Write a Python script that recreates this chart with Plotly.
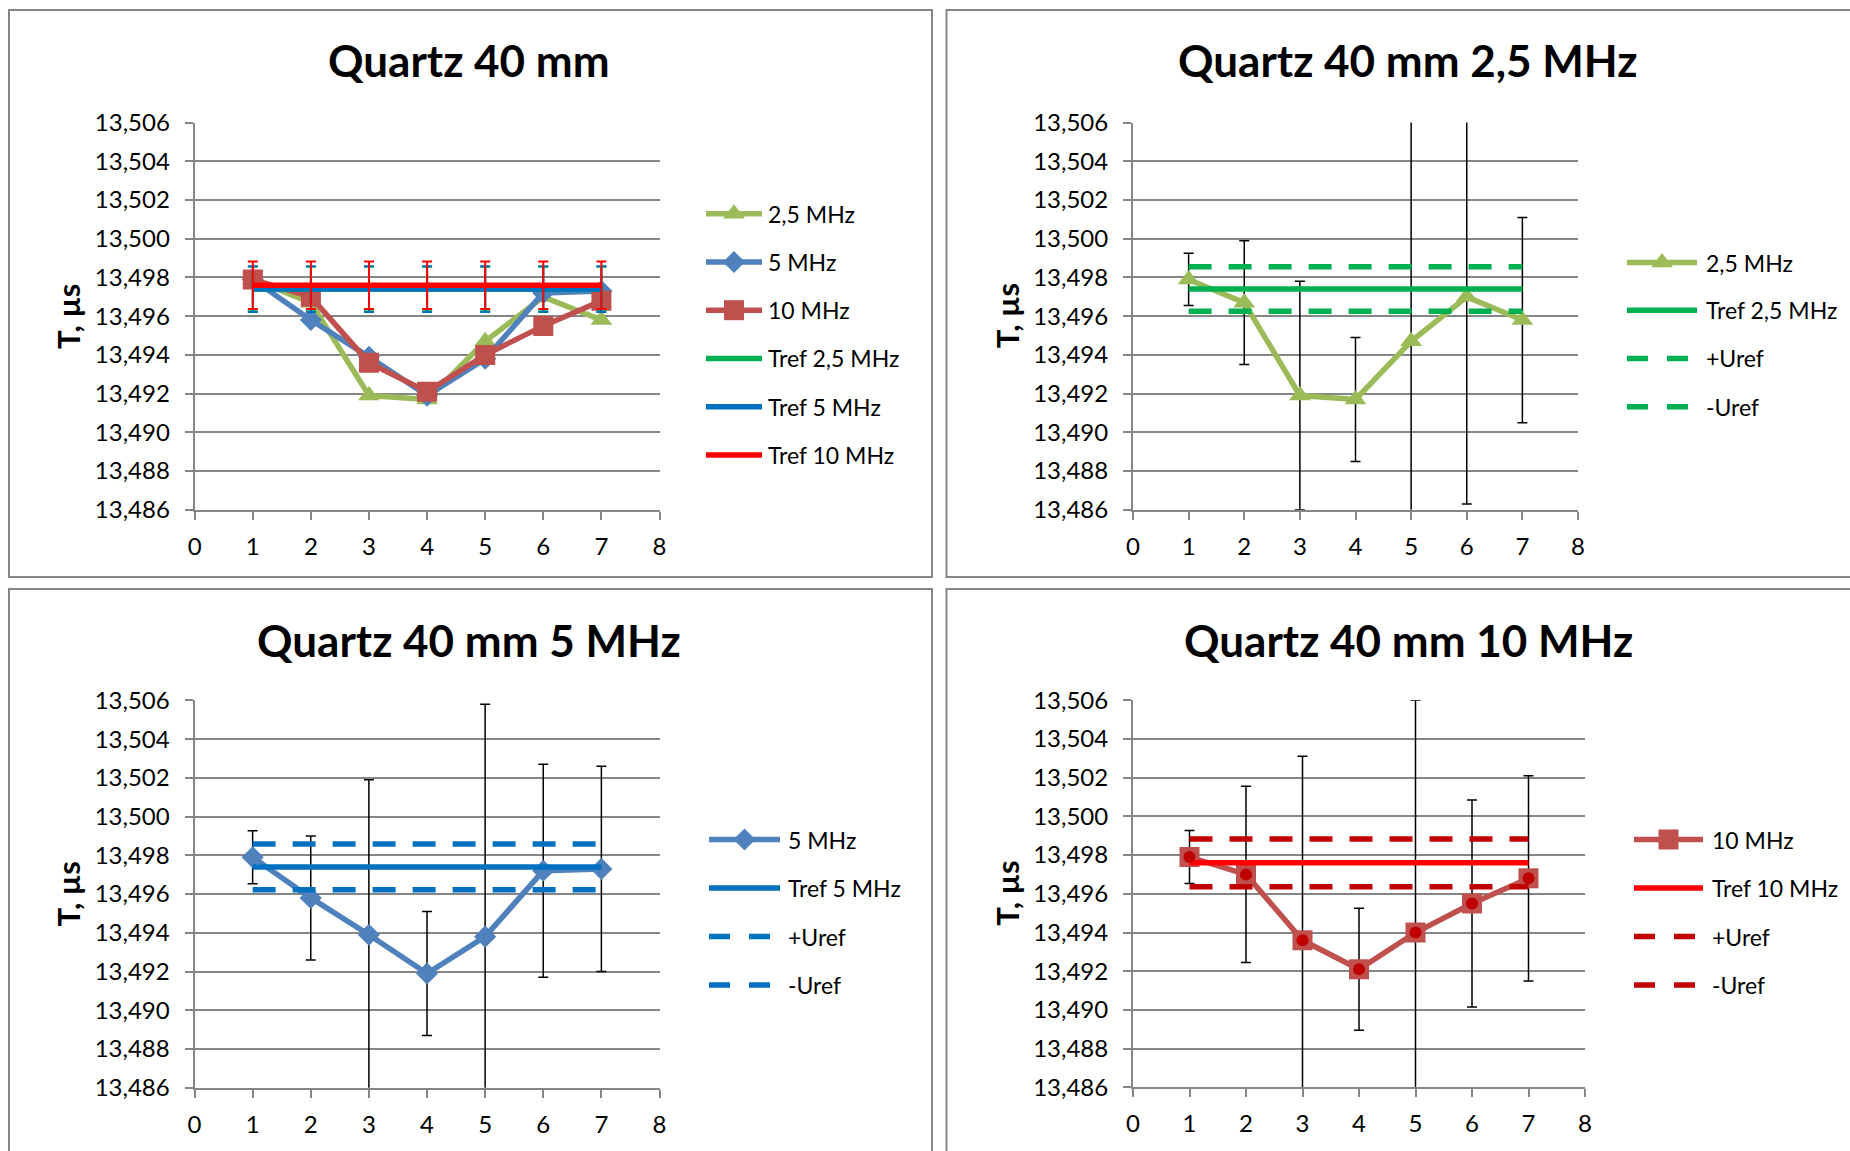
import plotly.graph_objects as go

# ---------------------------------------------------------------------------
# Measured period T (µs) of the 40 mm quartz sample, runs 1..7
# ---------------------------------------------------------------------------
RUNS = [1, 2, 3, 4, 5, 6, 7]

T_2_5MHZ = [13.4979, 13.4967, 13.4919, 13.4917, 13.4947, 13.4970, 13.4958]
T_5MHZ = [13.4979, 13.4958, 13.4939, 13.4919, 13.4938, 13.4972, 13.4973]
T_10MHZ = [13.4979, 13.4970, 13.4936, 13.4921, 13.4940, 13.4955, 13.4968]

# expanded uncertainty of every run (half width of the error bar)
U_2_5MHZ = [0.00135, 0.0032, 0.0059, 0.0032, 0.0125, 0.0107, 0.0053]
U_5MHZ = [0.00137, 0.0032, 0.0080, 0.0032, 0.0120, 0.0055, 0.0053]
U_10MHZ = [0.00137, 0.00455, 0.0095, 0.00315, 0.0120, 0.00535, 0.0053]

# reference period and its uncertainty for each frequency
TREF_2_5MHZ, UREF_2_5MHZ = 13.4974, 0.00115
TREF_5MHZ, UREF_5MHZ = 13.4974, 0.00118
TREF_10MHZ, UREF_10MHZ = 13.4976, 0.00123

X_TICKS = [0, 1, 2, 3, 4, 5, 6, 7, 8]
Y_RANGE = [13.486, 13.506]

TITLES = ["Quartz 40 mm", "Quartz 40 mm 2,5 MHz", "Quartz 40 mm 5 MHz", "Quartz 40 mm 10 MHz"]

# ---------------------------------------------------------------------------
# styling
# ---------------------------------------------------------------------------
W, H = 1850, 1151
FONT = "Lato"
GRID = "#868686"
C_25, C_5, C_10 = "#9BBB59", "#4F81BD", "#C0504D"
C_REF25, C_REF5, C_REF10 = "#00B050", "#0070C0", "#FF0000"
C_U25, C_U5, C_U10 = "#00B050", "#0070C0", "#C00000"
LW = 5.5
DASH_PLOT = "23px,17px"
DASH_LEG = "21px,19px"

MK = {
    "tri": dict(symbol="triangle-up", size=19),
    "dia": dict(symbol="diamond", size=17),
    "sq": dict(symbol="square", size=20),
}


def px(x):
    return x / W


def py(y):
    return 1 - y / H


# plot areas in pixels: (left, right, top, bottom)
AREAS = [
    (194.7, 659.5, 122.6, 509.8),
    (1133.0, 1578.0, 122.6, 509.8),
    (194.5, 659.5, 700.4, 1087.7),
    (1133.0, 1585.0, 700.2, 1087.4),
]

fig = go.Figure()
N = len(RUNS)


def ax(i):
    return ("x" if i == 0 else f"x{i + 1}"), ("y" if i == 0 else f"y{i + 1}")


def err(vals, color=None, thick=1.5):
    return dict(type="data", array=vals, visible=True, color=color or "black",
                thickness=thick, width=5)


def series(i, y, color, mk, errors=None):
    xa, ya = ax(i)
    fig.add_trace(go.Scatter(
        x=RUNS, y=y, xaxis=xa, yaxis=ya, mode="lines+markers",
        line=dict(color=color, width=LW),
        marker=dict(color=color, **MK[mk]),
        error_y=err(errors) if errors else None,
        showlegend=False, hoverinfo="skip"))


def ref_line(i, value, color, dash=None, errors=None):
    xa, ya = ax(i)
    fig.add_trace(go.Scatter(
        x=RUNS, y=[value] * N, xaxis=xa, yaxis=ya, mode="lines",
        line=dict(color=color, width=LW, dash=dash),
        error_y=err([errors] * N, color, 2) if errors else None,
        showlegend=False, hoverinfo="skip"))


# --- combined chart ---
series(0, T_2_5MHZ, C_25, "tri")
series(0, T_5MHZ, C_5, "dia")
series(0, T_10MHZ, C_10, "sq")
ref_line(0, TREF_2_5MHZ, C_REF25, errors=UREF_2_5MHZ)
ref_line(0, TREF_5MHZ, C_REF5, errors=UREF_5MHZ)
ref_line(0, TREF_10MHZ, C_REF10, errors=UREF_10MHZ)

# --- 2,5 MHz ---
series(1, T_2_5MHZ, C_25, "tri", U_2_5MHZ)
ref_line(1, TREF_2_5MHZ, C_REF25)
ref_line(1, TREF_2_5MHZ + UREF_2_5MHZ, C_U25, DASH_PLOT)
ref_line(1, TREF_2_5MHZ - UREF_2_5MHZ, C_U25, DASH_PLOT)

# --- 5 MHz ---
series(2, T_5MHZ, C_5, "dia", U_5MHZ)
ref_line(2, TREF_5MHZ, C_REF5)
ref_line(2, TREF_5MHZ + UREF_5MHZ, C_U5, DASH_PLOT)
ref_line(2, TREF_5MHZ - UREF_5MHZ, C_U5, DASH_PLOT)

# --- 10 MHz ---
series(3, T_10MHZ, C_10, "sq", U_10MHZ)
ref_line(3, TREF_10MHZ, C_REF10)
ref_line(3, TREF_10MHZ + UREF_10MHZ, C_U10, DASH_PLOT)
ref_line(3, TREF_10MHZ - UREF_10MHZ, C_U10, DASH_PLOT)
fig.add_trace(go.Scatter(
    x=RUNS, y=T_10MHZ, xaxis="x4", yaxis="y4", mode="markers",
    marker=dict(symbol="circle", size=12, color="#C00000"),
    showlegend=False, hoverinfo="skip"))

# ---------------------------------------------------------------------------
# legends (pixel overlay axis spanning the whole page)
# ---------------------------------------------------------------------------
LEGENDS = [
    (706, 762, 766, [213.8, 262.0, 310.2, 358.5, 406.8, 455.0], [
        ("2,5 MHz", C_25, None, "tri"), ("5 MHz", C_5, None, "dia"),
        ("10 MHz", C_10, None, "sq"), ("Tref 2,5 MHz", C_REF25, None, None),
        ("Tref 5 MHz", C_REF5, None, None), ("Tref 10 MHz", C_REF10, None, None)]),
    (1627, 1697, 1704, [262.5, 310.2, 358.5, 406.8], [
        ("2,5 MHz", C_25, None, "tri"), ("Tref 2,5 MHz", C_REF25, None, None),
        ("+Uref", C_U25, DASH_LEG, None), ("-Uref", C_U25, DASH_LEG, None)]),
    (709, 780, 786, [839.5, 888.0, 936.5, 985.0], [
        ("5 MHz", C_5, None, "dia"), ("Tref 5 MHz", C_REF5, None, None),
        ("+Uref", C_U5, DASH_LEG, None), ("-Uref", C_U5, DASH_LEG, None)]),
    (1634, 1703, 1710, [839.5, 888.0, 936.5, 985.0], [
        ("10 MHz", C_10, None, "sq"), ("Tref 10 MHz", C_REF10, None, None),
        ("+Uref", C_U10, DASH_LEG, None), ("-Uref", C_U10, DASH_LEG, None)]),
]

annotations = []
for x0, x1, xt, ys, items in LEGENDS:
    for yc, (label, color, dash, mk) in zip(ys, items):
        fig.add_trace(go.Scatter(
            x=[x0, x1], y=[yc, yc], xaxis="x5", yaxis="y5", mode="lines",
            line=dict(color=color, width=LW, dash=dash),
            showlegend=False, hoverinfo="skip"))
        if mk:
            fig.add_trace(go.Scatter(
                x=[(x0 + x1) / 2], y=[yc], xaxis="x5", yaxis="y5", mode="markers",
                marker=dict(color=color, **MK[mk]), showlegend=False, hoverinfo="skip"))
        annotations.append(dict(
            x=px(xt), y=py(yc), xref="paper", yref="paper", text=label,
            showarrow=False, xanchor="left", yanchor="middle",
            font=dict(family=FONT, size=23, color="black")))

# titles and y axis titles
for (l, r, t, b), title in zip(AREAS, TITLES):
    cx = 469 if l < 900 else 1408
    ty = 60 if t < 400 else 640
    annotations.append(dict(
        x=px(cx), y=py(ty), xref="paper", yref="paper", text=f"<b>{title}</b>",
        showarrow=False, xanchor="center", yanchor="middle",
        font=dict(family=FONT, size=44, color="black")))
    annotations.append(dict(
        x=px(l - 126), y=py((t + b) / 2), xref="paper", yref="paper",
        text="<b>T, µs</b>", textangle=-90, showarrow=False,
        xanchor="center", yanchor="middle",
        font=dict(family=FONT, size=31, color="black")))

# chart borders
shapes = []
PANELS = [(9, 932, 10, 577), (946.5, 1860, 10, 577), (9, 932, 589, 1160), (946.5, 1860, 589, 1160)]
for x0, x1, y0, y1 in PANELS:
    shapes.append(dict(type="rect", xref="paper", yref="paper",
                       x0=px(x0), x1=px(x1), y0=py(y1), y1=py(y0),
                       line=dict(color=GRID, width=2), fillcolor="rgba(0,0,0,0)", layer="below"))

layout = dict(
    width=W, height=H, margin=dict(l=0, r=0, t=0, b=0, pad=0, autoexpand=False),
    paper_bgcolor="white", plot_bgcolor="rgba(0,0,0,0)",
    showlegend=False, separators=", ",
    font=dict(family=FONT, size=22, color="black"),
    annotations=annotations, shapes=shapes,
)

tickfont = dict(family=FONT, size=24, color="black")
for i, (l, r, t, b) in enumerate(AREAS):
    sx = "" if i == 0 else str(i + 1)
    layout["xaxis" + sx] = dict(
        domain=[px(l), px(r)], range=[X_TICKS[0], X_TICKS[-1]], anchor="y" + sx,
        tickmode="array", tickvals=X_TICKS, ticktext=[str(v) for v in X_TICKS],
        showgrid=False, zeroline=False, showline=True, linecolor=GRID, linewidth=2,
        ticks="outside", ticklen=8, tickwidth=2, tickcolor=GRID,
        tickfont=tickfont, ticklabelstandoff=6, automargin=False, fixedrange=True)
    layout["yaxis" + sx] = dict(
        domain=[py(b), py(t)], range=Y_RANGE, anchor="x" + sx,
        tick0=Y_RANGE[0], dtick=0.002, tickformat=".3f",
        showgrid=True, gridcolor=GRID, gridwidth=2, zeroline=False,
        showline=True, linecolor=GRID, linewidth=2,
        ticks="outside", ticklen=8, tickwidth=2, tickcolor=GRID,
        tickfont=tickfont, ticklabelstandoff=10, automargin=False, fixedrange=True)

layout["xaxis5"] = dict(domain=[0, 1], range=[0, W], visible=False, anchor="y5",
                        automargin=False, fixedrange=True)
layout["yaxis5"] = dict(domain=[0, 1], range=[H, 0], visible=False, anchor="x5",
                        automargin=False, fixedrange=True)

fig.update_layout(**layout)
fig.write_html("out.html")
